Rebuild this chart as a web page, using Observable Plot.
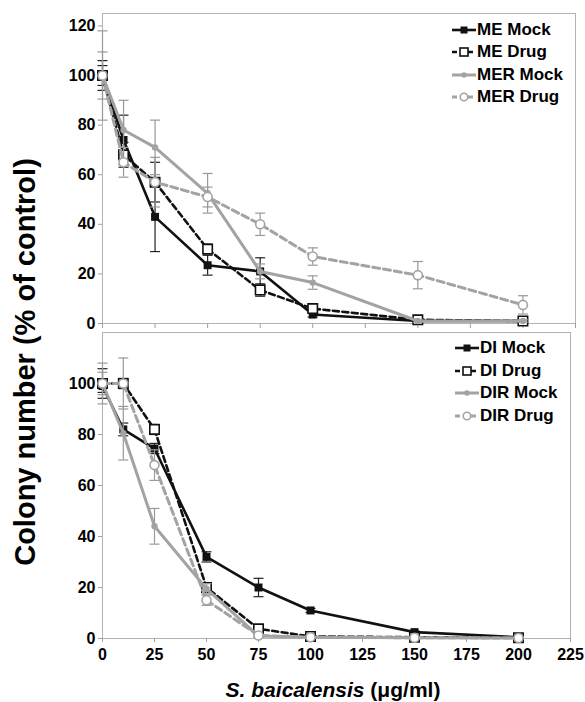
<!DOCTYPE html>
<html>
<head>
<meta charset="utf-8">
<script src="https://cdn.jsdelivr.net/npm/d3@7"></script>
<script src="https://cdn.jsdelivr.net/npm/@observablehq/plot@0.6"></script>
<style>
  body { margin: 0; background: #fff; }
  #wrap { position: relative; width: 585px; height: 702px; overflow: hidden;
          font-family: "Liberation Sans", Arial, sans-serif; background: #fff; }
  #wrap > svg { position: absolute; left: 0; }
  .lg-row { position: absolute; display: flex; align-items: center; height: 22px;
            font-weight: bold; font-size: 17px; line-height: 22px; white-space: nowrap; color: #000; z-index: 2; }
  .lg-row svg { display: block; margin-right: 1px; }
  #ytitle { position: absolute; left: 25px; top: 362px; transform: translate(-50%, -50%) rotate(-90deg);
            font-weight: bold; font-size: 29px; line-height: 29px; white-space: nowrap; z-index: 2; }
  #xtitle { position: absolute; left: 333px; top: 679px; transform: translateX(-50%);
            font-weight: bold; font-size: 21px; line-height: 21px; white-space: nowrap; z-index: 2; }
</style>
</head>
<body>
<div id="wrap"></div>
<script>
// ---------- data ----------
const doses = [0, 10, 25, 50, 75, 100, 150, 200];
const xTicks = [0, 25, 50, 75, 100, 125, 150, 175, 200, 225];
const yTicksTop = [0, 20, 40, 60, 80, 100, 120];
const yTicksBottom = [0, 20, 40, 60, 80, 100];

const topLabels = ["ME Mock", "ME Drug", "MER Mock", "MER Drug"];
const meMock     = [100, 74, 43, 23.5, 21, 3.6, 1, 1];
const meMockErr  = [6, 10, 14, 4, 5.5, 1, 0.5, 0.5];
const meDrug     = [100, 68, 57, 30, 13.5, 6, 1.5, 1];
const meDrugErr  = [4, 5, 8, 2, 2.5, 1, 0.5, 0.5];
const merMock    = [100, 78, 71, 52.5, 21, 16.5, 1, 1];
const merMockErr = [18, 12, 11, 8, 3, 2.7, 0.5, 0.5];
const merDrug    = [100, 65, 57, 51, 40, 27, 19.5, 7.5];
const merDrugErr = [9.5, 6, 10, 4, 4.5, 3.5, 5.5, 3.7];

const bottomLabels = ["DI Mock", "DI Drug", "DIR Mock", "DIR Drug"];
const diMock     = [99, 82, 74.5, 32, 20, 11, 2.5, 0.5];
const diMockErr  = [2.5, 2.5, 2, 2, 3.6, 0.8, 0.5, 0.3];
const diDrug     = [100, 100, 82, 20, 3.8, 0.8, 0.5, 0.3];
const diDrugErr  = [5.8, 2, 2, 1.5, 1, 0.3, 0.3, 0.2];
const dirMock    = [100, 80.5, 44, 19.5, 1, 0.5, 0.3, 0.2];
const dirMockErr = [8, 10.5, 7, 2, 0.5, 0.3, 0.2, 0.2];
const dirDrug    = [100, 100, 68, 15, 1.2, 0.5, 0.3, 0.2];
const dirDrugErr = [4.4, 10, 6, 2, 0.5, 0.3, 0.2, 0.2];

// ---------- styles ----------
const BLACK = "#111", GRAY = "#a3a3a3";
const styles = [
  { color: BLACK, width: 2.6, dash: null,    symbol: "square", r: 4.5, fill: BLACK,  mstroke: "none", msw: 0,   err: "#222" },
  { color: BLACK, width: 2.6, dash: "6,3.5", symbol: "square", r: 5.3, fill: "#fff", mstroke: BLACK,  msw: 1.6, err: "#222" },
  { color: GRAY,  width: 3,   dash: null,    symbol: "circle", r: 3.2, fill: GRAY,   mstroke: "none", msw: 0,   err: "#999" },
  { color: GRAY,  width: 3,   dash: "7,4",   symbol: "circle", r: 4.5, fill: "#fff", mstroke: GRAY,   msw: 1.6, err: "#999" }
];
const cap = { draw(ctx) { ctx.moveTo(-5, 0); ctx.lineTo(5, 0); } };

function rows(values, errs) {
  return doses.map((x, i) => ({ x, y: values[i], err: errs[i] })).filter(d => d.y != null);
}
function seriesMarks(data, st) {
  return [
    Plot.ruleX(data, { x: "x", y1: d => Math.max(0, d.y - d.err), y2: d => d.y + d.err, stroke: st.err, strokeWidth: 1.2 }),
    Plot.dot(data, { x: "x", y: d => d.y + d.err, symbol: cap, stroke: st.err, strokeWidth: 1.2 }),
    Plot.dot(data, { x: "x", y: d => Math.max(0, d.y - d.err), symbol: cap, stroke: st.err, strokeWidth: 1.2 }),
    Plot.line(data, { x: "x", y: "y", stroke: st.color, strokeWidth: st.width, strokeDasharray: st.dash, strokeLinejoin: "miter" }),
    Plot.dot(data, { x: "x", y: "y", symbol: st.symbol, r: st.r, fill: st.fill, stroke: st.mstroke, strokeWidth: st.msw })
  ];
}
const fontStyle = { fontFamily: "Liberation Sans, Arial, sans-serif", background: "transparent", overflow: "visible" };

// ---------- top panel ----------
const topSeries = [rows(meMock, meMockErr), rows(meDrug, meDrugErr), rows(merMock, merMockErr), rows(merDrug, merDrugErr)];
const topPlot = Plot.plot({
  width: 585, height: 328,
  marginLeft: 102, marginRight: 10, marginTop: 13, marginBottom: 5,
  style: fontStyle,
  x: { domain: [0, 225] },
  y: { domain: [0, 125] },
  marks: [
    Plot.frame({ stroke: "#b3b3b3", strokeWidth: 1 }),
    Plot.axisX({ ticks: xTicks, tickSize: 5, tickFormat: () => "", stroke: "#a0a0a0", label: null }),
    Plot.axisY({ ticks: yTicksTop, tickSize: 4, tickPadding: 3, stroke: "#a0a0a0", fill: "#000",
                 fontSize: 16, fontWeight: "bold", label: null }),
    ...topSeries.flatMap((d, i) => seriesMarks(d, styles[i]))
  ]
});
topPlot.style.top = "0px";

// ---------- bottom panel ----------
const bottomSeries = [rows(diMock, diMockErr), rows(diDrug, diDrugErr), rows(dirMock, dirMockErr), rows(dirDrug, dirDrugErr)];
const bottomPlot = Plot.plot({
  width: 585, height: 374,
  marginLeft: 102, marginRight: 15, marginTop: 4, marginBottom: 64,
  style: fontStyle,
  x: { domain: [0, 225] },
  y: { domain: [0, 120] },
  marks: [
    Plot.frame({ stroke: "#b3b3b3", strokeWidth: 1 }),
    Plot.axisX({ ticks: xTicks, tickSize: 4, tickPadding: 6, stroke: "#a0a0a0", fill: "#000",
                 fontSize: 16, fontWeight: "bold", label: null }),
    Plot.axisY({ ticks: yTicksBottom, tickSize: 4, tickPadding: 3, stroke: "#a0a0a0", fill: "#000",
                 fontSize: 16, fontWeight: "bold", label: null }),
    ...bottomSeries.flatMap((d, i) => seriesMarks(d, styles[i]))
  ]
});
bottomPlot.style.top = "328px";

const wrap = document.getElementById("wrap");
wrap.appendChild(topPlot);
wrap.appendChild(bottomPlot);

// ---------- legends ----------
function swatch(st) {
  const ns = "http://www.w3.org/2000/svg";
  const s = document.createElementNS(ns, "svg");
  s.setAttribute("width", 24); s.setAttribute("height", 14);
  const l = document.createElementNS(ns, "line");
  l.setAttribute("x1", 0); l.setAttribute("x2", 24); l.setAttribute("y1", 7); l.setAttribute("y2", 7);
  l.setAttribute("stroke", st.color); l.setAttribute("stroke-width", st.width);
  if (st.dash) l.setAttribute("stroke-dasharray", "5,3");
  s.appendChild(l);
  let m;
  if (st.symbol === "square") {
    const w = st.fill === "#fff" ? 8 : 7;
    m = document.createElementNS(ns, "rect");
    m.setAttribute("x", 12 - w / 2); m.setAttribute("y", 7 - w / 2);
    m.setAttribute("width", w); m.setAttribute("height", w);
  } else {
    m = document.createElementNS(ns, "circle");
    m.setAttribute("cx", 12); m.setAttribute("cy", 7); m.setAttribute("r", st.fill === "#fff" ? 3.8 : 2.8);
  }
  m.setAttribute("fill", st.fill);
  m.setAttribute("stroke", st.mstroke);
  m.setAttribute("stroke-width", st.msw || 0);
  s.appendChild(m);
  return s;
}
function legend(labels, left, topCenter, step) {
  labels.forEach((lab, i) => {
    const row = document.createElement("div");
    row.className = "lg-row";
    row.style.left = left + "px";
    row.style.top = (topCenter + i * step - 11) + "px";
    row.appendChild(swatch(styles[i]));
    const t = document.createElement("span");
    t.textContent = lab;
    row.appendChild(t);
    wrap.appendChild(row);
  });
}
legend(topLabels, 452, 29.5, 22.5);
legend(bottomLabels, 455, 348, 22.5);

// ---------- titles ----------
const yt = document.createElement("div");
yt.id = "ytitle";
yt.textContent = "Colony number (% of control)";
wrap.appendChild(yt);

const xt = document.createElement("div");
xt.id = "xtitle";
xt.innerHTML = "<i>S. baicalensis</i> (\u03bcg/ml)";
wrap.appendChild(xt);
</script>
</body>
</html>
